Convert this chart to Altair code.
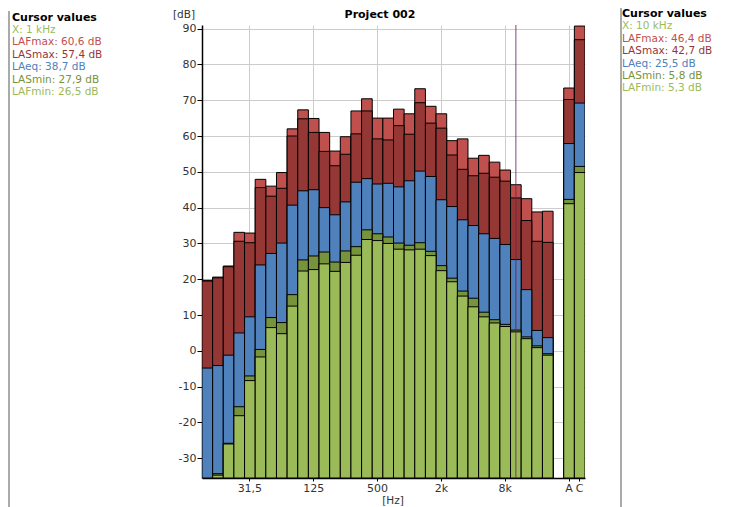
import altair as alt
import pandas as pd

# 1/3-octave bands, then overall A and C
bands = ["12,5", "16", "20", "25", "31,5", "40", "50", "63", "80", "100", "125", "160",
         "200", "250", "315", "400", "500", "630", "800", "1k", "1,25k", "1,6k", "2k",
         "2,5k", "3,15k", "4k", "5k", "6,3k", "8k", "10k", "12,5k", "16k", "20k", "A", "C"]

LAFmax = [19.7, 20.6, 23.7, 33.1, 32.9, 47.9, 46.0, 49.8, 62.0, 67.3, 64.9, 61.0,
          55.8, 59.8, 67.0, 70.4, 65.0, 65.0, 67.5, 66.2, 73.2, 68.3, 66.2,
          58.7, 59.2, 53.8, 54.6, 52.7, 50.5, 46.4, 42.5, 38.8, 39.0, 73.4, 90.7]
LASmax = [19.5, 20.4, 23.5, 30.6, 30.2, 45.6, 43.2, 45.4, 60.0, 64.8, 61.0, 55.7,
          51.7, 54.9, 60.6, 67.0, 59.2, 58.9, 62.9, 60.5, 69.3, 63.6, 62.2,
          54.7, 50.7, 48.9, 49.6, 48.5, 47.4, 42.7, 36.4, 30.6, 30.3, 70.2, 86.9]
LAeq = [-4.8, -4.1, -1.2, 5.0, 9.5, 24.0, 27.2, 30.1, 40.7, 44.7, 45.0, 40.0,
        38.0, 41.6, 47.1, 48.1, 46.6, 46.8, 45.8, 47.5, 50.2, 48.7, 42.2,
        40.3, 36.6, 35.0, 32.7, 31.4, 29.7, 25.5, 17.1, 5.7, 3.7, 57.9, 69.2]
LASmin = [None, -34.3, -25.8, -15.6, -7.0, 0.4, 9.3, 7.9, 15.7, 25.4, 26.5, 27.6,
          24.8, 27.9, 29.1, 33.8, 32.7, 31.8, 30.1, 29.5, 30.2, 27.8, 23.8,
          20.3, 16.7, 14.7, 10.8, 8.7, 7.4, 5.8, 3.9, 1.4, -0.8, 42.3, 51.5]
LAFmin = [None, -34.7, -26.0, -18.1, -8.3, -1.7, 6.5, 4.8, 12.5, 22.3, 22.7, 24.3,
          22.2, 24.7, 26.7, 31.1, 30.8, 30.0, 28.4, 28.2, 28.4, 26.6, 22.4,
          19.3, 15.3, 12.3, 9.5, 7.8, 6.8, 5.3, 3.4, 0.9, -1.2, 41.1, 49.8]

series_names = ["LAFmax", "LASmax", "LAeq", "LASmin", "LAFmin"]
series_colors = ["#c0504d", "#953735", "#4f81bd", "#77933c", "#9bbb59"]
x_ticks = ["31,5", "125", "500", "2k", "8k", "A", "C"]
y_ticks = [-30, -20, -10, 0, 10, 20, 30, 40, 50, 60, 70, 80, 90]
cursor_band = ["10k"]

left_lines = ["Cursor values", "X: 1 kHz", "LAFmax: 60,6 dB", "LASmax: 57,4 dB",
              "LAeq: 38,7 dB", "LASmin: 27,9 dB", "LAFmin: 26,5 dB"]
right_lines = ["Cursor values", "X: 10 kHz", "LAFmax: 46,4 dB", "LASmax: 42,7 dB",
               "LAeq: 25,5 dB", "LASmin: 5,8 dB", "LAFmin: 5,3 dB"]
line_colors = ["#000000", "#9bbb59", "#c0504d", "#953735", "#4f81bd", "#77933c", "#9bbb59"]

rows = []
for k, (name, vals) in enumerate(zip(series_names, [LAFmax, LASmax, LAeq, LASmin, LAFmin])):
    for b, v in zip(bands, vals):
        if v is not None:
            rows.append({"band": b, "series": name, "value": v, "ord": k})
df = pd.DataFrame(rows)

x_domain = bands[:-2] + [" "] + bands[-2:]

W, H = 383, 453
FONT = "DejaVu Sans"

bars = alt.Chart(df).mark_bar(stroke="black", strokeWidth=1, clip=True, opacity=1).encode(
    x=alt.X("band:N",
            scale=alt.Scale(domain=x_domain, paddingInner=0, paddingOuter=0),
            axis=alt.Axis(values=x_ticks, title=None, labelAngle=0, bandPosition=0.5,
                          tickSize=3, labelPadding=1, labelFontSize=11, grid=True)),
    y=alt.Y("value:Q", stack=None,
            scale=alt.Scale(domain=[-35.5, 91], nice=False, zero=False),
            axis=alt.Axis(values=y_ticks, title=None, tickSize=5, labelPadding=1,
                          labelFontSize=11, labelExpr="datum.value + ''", grid=True)),
    y2=alt.value(H),
    color=alt.Color("series:N", scale=alt.Scale(domain=series_names, range=series_colors),
                    legend=None),
    order=alt.Order("ord:Q"),
)

cursor = alt.Chart(pd.DataFrame({"band": cursor_band})).mark_rule(
    color="#6e1f5e", strokeWidth=1.2, opacity=0.7
).encode(x=alt.X("band:N"), y=alt.value(0), y2=alt.value(H))

dummy = pd.DataFrame({"a": [0]})

def txt(text, x, y, color="#000000", size=10.5, bold=False, align="left", baseline="middle"):
    return alt.Chart(dummy).mark_text(
        text=text, color=color, fontSize=size, font=FONT,
        fontWeight="bold" if bold else "normal", align=align, baseline=baseline
    ).encode(x=alt.value(x), y=alt.value(y))

layers = [bars, cursor]

# panel separator lines
layers.append(alt.Chart(dummy).mark_rule(color="#aaaaaa", strokeWidth=2).encode(
    x=alt.value(-193), y=alt.value(-14), y2=alt.value(482)))
layers.append(alt.Chart(dummy).mark_rule(color="#aaaaaa", strokeWidth=2).encode(
    x=alt.value(419), y=alt.value(-17), y2=alt.value(482)))

# title and axis units
layers.append(txt("Project 002", 178, -16, size=11, bold=True, align="center", baseline="top"))
layers.append(txt("[dB]", -18, -10, color="#333333", size=10.5, align="center"))
layers.append(txt("[Hz]", 191, 476, color="#333333", size=10.5, align="center"))

# cursor value panels
for i, (t, c) in enumerate(zip(left_lines, line_colors)):
    layers.append(txt(t, -190, 17.5 + 12.4 * i - 25, color=c, bold=(i == 0),
                      size=11 if i == 0 else 10.5))
for i, (t, c) in enumerate(zip(right_lines, line_colors)):
    layers.append(txt(t, 420, 14 + 12.4 * i - 25, color=c, bold=(i == 0),
                      size=11 if i == 0 else 10.5))

chart = alt.layer(*layers).properties(
    width=W, height=H,
    autosize=alt.AutoSizeParams(type="none"),
    padding={"left": 194, "top": 17, "right": 136, "bottom": 29},
).configure_view(strokeWidth=0).configure_axis(
    labelFont=FONT, labelColor="#333333", gridColor="#cccccc", gridWidth=1,
    domainColor="black", domainWidth=1.5, tickColor="black",
)

chart.save("out.html", embed_options={"renderer": "svg", "actions": False})
